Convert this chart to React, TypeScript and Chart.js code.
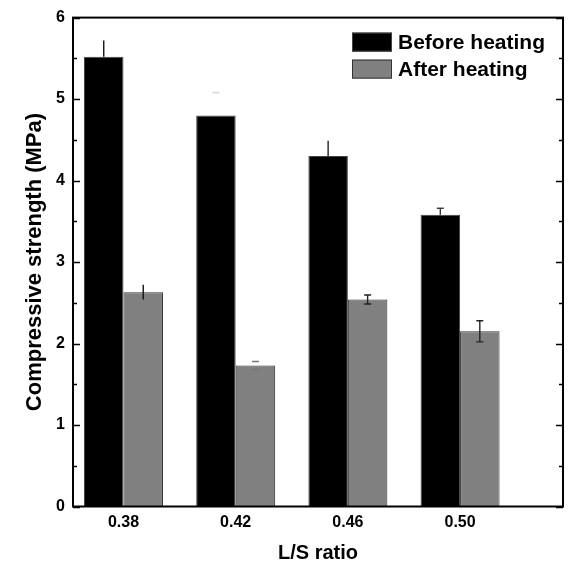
import React, { useEffect, useRef } from 'react';
import { Chart, registerables } from 'chart.js';

Chart.register(...registerables);

// ---- data ----
const categories = [0.38, 0.42, 0.46, 0.5];
const seriesLabels = ['Before heating', 'After heating'];
const beforeValues = [5.52, 4.8, 4.3, 3.58];
const beforeErrors = [0.2, 0.28, 0.19, 0.08];
const afterValues = [2.63, 1.73, 2.54, 2.15];
const afterErrors = [0.09, 0.05, 0.055, 0.13];
const yMin = 0;
const yMax = 6;
const yStep = 1;

// ---- error bar styles ----
const beforeErrStyle = {
  both: false,
  caps: [false, true, false, true],
  stems: [true, false, true, true],
  colors: ['#111111', '#d4d4d4', '#222222', '#333333'],
};
const afterErrStyle = {
  both: true,
  caps: [false, true, true, true],
  stems: [true, false, true, true],
  colors: ['#111111', '#777777', '#222222', '#222222'],
};

const FONT = "'Liberation Sans', Arial, Helvetica, sans-serif";

const errorBarPlugin = {
  id: 'errorBars',
  afterDatasetsDraw(chart: any) {
    const ctx = chart.ctx;
    const y = chart.scales.y;
    const sets = [
      { errs: beforeErrors, vals: beforeValues, st: beforeErrStyle },
      { errs: afterErrors, vals: afterValues, st: afterErrStyle },
    ];
    sets.forEach((s, di) => {
      const meta = chart.getDatasetMeta(di);
      meta.data.forEach((el: any, i: number) => {
        const x = el.x;
        const yTop = y.getPixelForValue(s.vals[i] + s.errs[i]);
        const yBot = s.st.both ? y.getPixelForValue(s.vals[i] - s.errs[i]) : y.getPixelForValue(s.vals[i]);
        ctx.save();
        ctx.strokeStyle = s.st.colors[i];
        ctx.lineWidth = 1.4;
        if (s.st.stems[i]) {
          ctx.beginPath();
          ctx.moveTo(x, yTop);
          ctx.lineTo(x, yBot);
          ctx.stroke();
        }
        if (s.st.caps[i]) {
          ctx.beginPath();
          ctx.moveTo(x - 3.5, yTop);
          ctx.lineTo(x + 3.5, yTop);
          if (s.st.both) {
            ctx.moveTo(x - 3.5, yBot);
            ctx.lineTo(x + 3.5, yBot);
          }
          ctx.stroke();
        }
        ctx.restore();
      });
    });
  },
};

const framePlugin = {
  id: 'frame',
  afterDraw(chart: any) {
    const { ctx, chartArea } = chart;
    const { left, right, top, bottom } = chartArea;
    const y = chart.scales.y;
    ctx.save();
    ctx.strokeStyle = '#000';
    ctx.lineWidth = 2;
    ctx.strokeRect(left, top, right - left, bottom - top);
    ctx.lineWidth = 1.5;
    for (let v = yMin; v <= yMax + 1e-9; v += yStep / 2) {
      const py = Math.round(y.getPixelForValue(v)) + 0.5;
      const major = Math.abs(v - Math.round(v)) < 1e-9;
      const len = major ? 7 : 4;
      ctx.beginPath();
      ctx.moveTo(left, py);
      ctx.lineTo(left + len, py);
      ctx.moveTo(right, py);
      ctx.lineTo(right - len, py);
      ctx.stroke();
    }
    // legend
    const boxW = 40;
    const boxH = 19;
    const bx = right - 211;
    let by = top + 15;
    chart.data.datasets.forEach((ds: any) => {
      ctx.fillStyle = ds.backgroundColor;
      ctx.fillRect(bx, by, boxW, boxH);
      ctx.strokeStyle = ds.borderColor;
      ctx.lineWidth = 1;
      ctx.strokeRect(bx + 0.5, by + 0.5, boxW - 1, boxH - 1);
      ctx.fillStyle = '#000';
      ctx.font = `bold 21px ${FONT}`;
      ctx.textAlign = 'left';
      ctx.textBaseline = 'middle';
      ctx.fillText(ds.label, bx + 46, by + boxH / 2 + 1);
      by += 27;
    });
    ctx.restore();
  },
};

export default function App() {
  const ref = useRef<HTMLCanvasElement | null>(null);
  useEffect(() => {
    if (!ref.current) return;
    const chart = new Chart(ref.current, {
      type: 'bar',
      data: {
        datasets: [
          {
            label: seriesLabels[0],
            data: categories.map((c, i) => ({ x: c, y: beforeValues[i] })),
            backgroundColor: '#000000',
            borderColor: '#444444',
            borderWidth: 1,
            categoryPercentage: 0.704,
            barPercentage: 1,
          },
          {
            label: seriesLabels[1],
            data: categories.map((c, i) => ({ x: c, y: afterValues[i] })),
            backgroundColor: '#808080',
            borderColor: '#333333',
            borderWidth: 1,
            categoryPercentage: 0.704,
            barPercentage: 1,
          },
        ],
      } as any,
      options: {
        responsive: false,
        animation: false,
        layout: { padding: { top: 16, right: 8, left: 0, bottom: 0 } },
        plugins: { legend: { display: false }, tooltip: { enabled: false } },
        scales: {
          x: {
            type: 'linear',
            offset: false,
            min: 0.362,
            max: 0.5367,
            afterBuildTicks: (s: any) => {
              s.ticks = categories.map((v) => ({ value: v }));
            },
            afterFit: (s: any) => {
              s.height = 59.5;
              s.paddingLeft = 0;
              s.paddingRight = 0;
            },
            grid: { display: false, drawTicks: false, offset: false },
            border: { display: false },
            ticks: {
              autoSkip: false,
              maxRotation: 0,
              padding: 6,
              color: '#000',
              font: { family: FONT, size: 16, weight: 'bold' },
              callback: (v: any) => Number(v).toFixed(2),
            },
            title: {
              display: true,
              text: 'L/S ratio',
              color: '#000',
              font: { family: FONT, size: 20, weight: 'bold', lineHeight: 1.2 },
              padding: { top: 0, bottom: 1 },
            },
          },
          y: {
            type: 'linear',
            min: yMin,
            max: yMax,
            afterFit: (s: any) => {
              s.width = 73;
            },
            grid: { display: false, drawTicks: false },
            border: { display: false },
            ticks: {
              stepSize: yStep,
              padding: 8,
              color: '#000',
              font: { family: FONT, size: 16, weight: 'bold' },
            },
            title: {
              display: true,
              text: 'Compressive strength (MPa)',
              color: '#000',
              font: { family: FONT, size: 22, weight: 'bold', lineHeight: 1.2 },
              padding: { top: 22, bottom: 0 },
            },
          },
        },
      } as any,
      plugins: [errorBarPlugin, framePlugin],
    });
    return () => chart.destroy();
  }, []);
  return (
    <div style={{ position: 'absolute', left: 0, top: 0, width: 571, height: 566, background: '#fff' }}>
      <canvas ref={ref} width={571} height={566} />
    </div>
  );
}
